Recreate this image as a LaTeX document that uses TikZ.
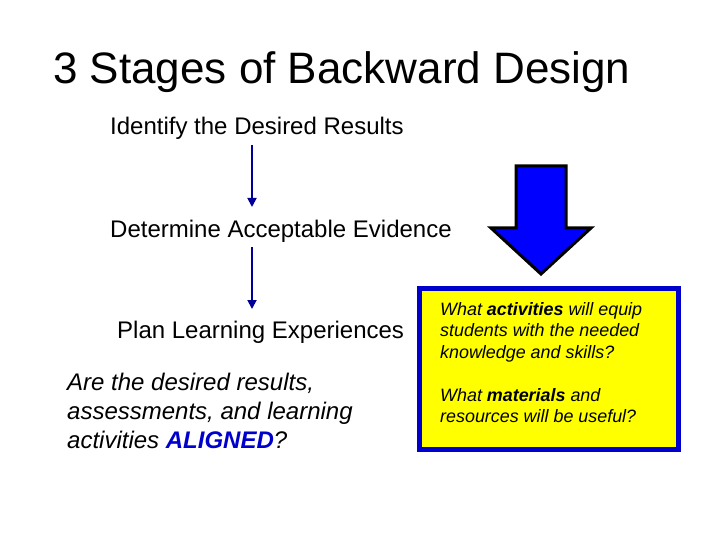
\documentclass[tikz,border=0pt]{standalone}
\usepackage{fontspec}
\setmainfont{Liberation Sans}
\usetikzlibrary{arrows.meta}
\definecolor{navy}{RGB}{0,0,153}
\definecolor{bblue}{RGB}{0,0,255}
\definecolor{boxblue}{RGB}{0,0,204}
\definecolor{yel}{RGB}{255,255,0}
\begin{document}
\begin{tikzpicture}[x=1pt,y=-1pt,
  lbl/.style={anchor=base west,inner sep=0pt,font=\fontsize{24}{29}\selectfont},
  qline/.style={anchor=base west,inner sep=0pt,font=\fontsize{24}{29}\selectfont\itshape},
  bline/.style={anchor=base west,inner sep=0pt,font=\fontsize{17.9}{21.5}\selectfont\itshape},
  conn/.style={draw=navy,line width=1.8pt,-{Triangle[length=9pt,width=9pt]}}]
\useasboundingbox (0,0) rectangle (720,540);
\fill[white] (0,0) rectangle (720,540);
\node[anchor=base west,inner sep=0pt,font=\fontsize{44}{50}\selectfont] (title) at (53,84) {3 Stages of Backward Design};
\node[lbl] (s1) at (110,135) {Identify the Desired Results};
\node[lbl] (s2) at (110,237) {Determine Acceptable Evidence};
\node[lbl] (s3) at (117,338) {Plan Learning Experiences};
\coordinate (a1s) at (252,145);
\coordinate (a1e) at (252,207);
\coordinate (a2s) at (252,247);
\coordinate (a2e) at (252,309);
\draw[conn] (a1s) -- (a1e);
\draw[conn] (a2s) -- (a2e);
\node[qline] (q1) at (67,390) {Are the desired results,};
\node[qline] (q2) at (67,419) {assessments, and learning};
\node[qline] (q3) at (67,448) {activities {\color{boxblue}\bfseries ALIGNED}?};
% big arrow
\filldraw[fill=bblue,draw=black,line width=3pt,line join=miter] (516,166) -- (566,166) -- (566,228) -- (591,228) -- (541,274) -- (491,228) -- (516,228) -- cycle;
% box
\node[draw=boxblue,fill=yel,line width=5pt,minimum width=259pt,minimum height=161pt,inner sep=0pt] (box) at (549,369) {};
\node[bline] (b1) at (440,315) {What \textbf{activities} will equip};
\node[bline] (b2) at (440,336.5) {students with the needed};
\node[bline] (b3) at (440,358) {knowledge and skills?};
\node[bline] (b4) at (440,401) {What \textbf{materials} and};
\node[bline] (b5) at (440,422.5) {resources will be useful?};
\end{tikzpicture}
\end{document}
